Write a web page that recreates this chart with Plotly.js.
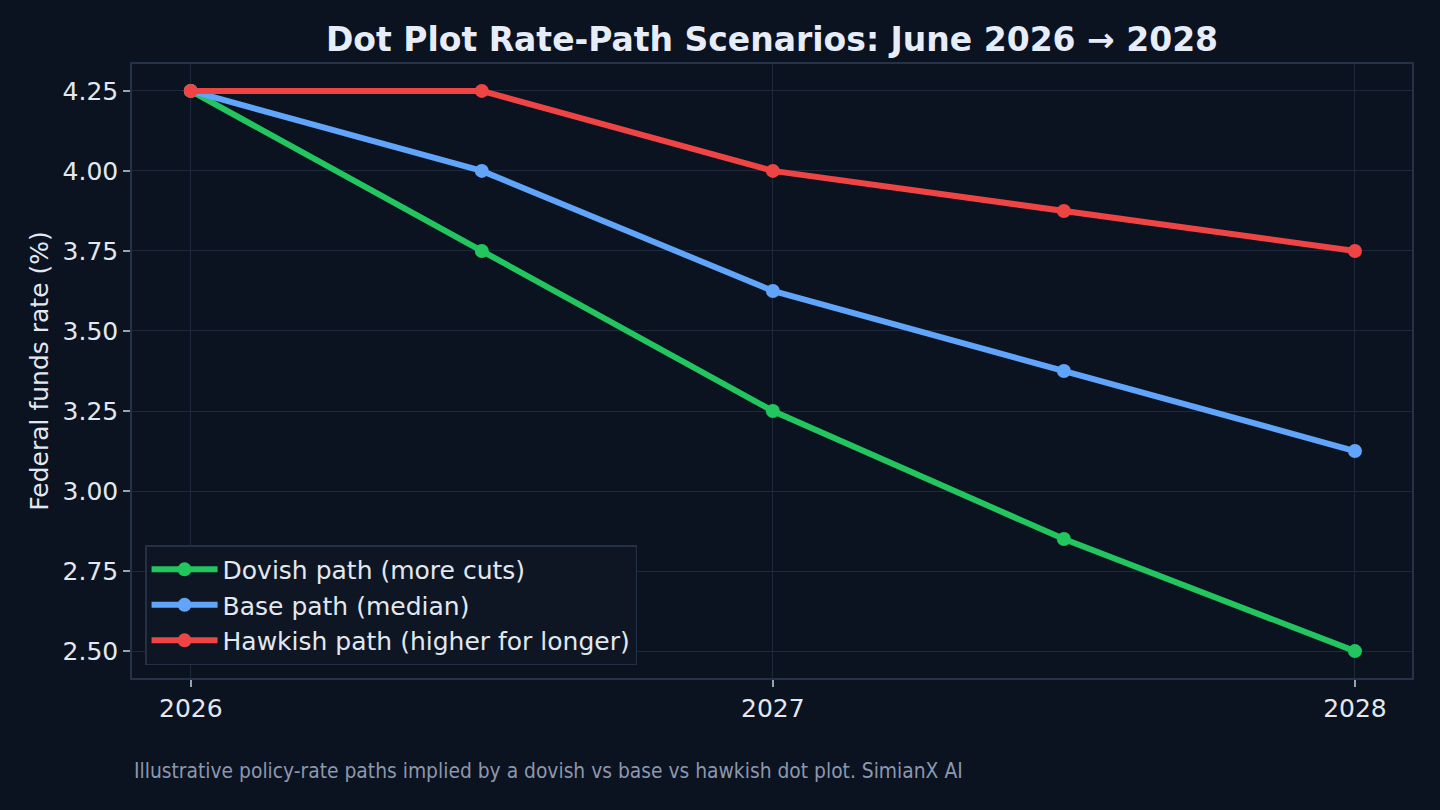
<!DOCTYPE html>
<html>
<head>
<meta charset="utf-8">
<script src="https://cdn.plot.ly/plotly-3.0.1.min.js"></script>
<style>
html,body{margin:0;padding:0;background:#0b1220;}
#chart{width:1440px;height:810px;}
</style>
</head>
<body>
<div id="chart"></div>
<script>
// Data
const xDates = [2026, 2026.5, 2027, 2027.5, 2028];
const dovish = [4.25, 3.75, 3.25, 2.85, 2.50];
const base = [4.25, 4.00, 3.625, 3.375, 3.125];
const hawkish = [4.25, 4.25, 4.00, 3.875, 3.75];
const seriesNames = ["Dovish path (more cuts)", "Base path (median)", "Hawkish path (higher for longer)"];
const xTickVals = [2026, 2027, 2028];
const xTickText = ["2026", "2027", "2028"];
const yTickVals = [2.50, 2.75, 3.00, 3.25, 3.50, 3.75, 4.00, 4.25];

const colors = ["#22c55e", "#60a5fa", "#ef4444"];
const font = "DejaVu Sans, Verdana, sans-serif";

function tr(y, i) {
  return {
    x: xDates, y: y, name: seriesNames[i], type: "scatter", mode: "lines+markers",
    line: {color: colors[i], width: 6},
    marker: {color: colors[i], size: 14}
  };
}

const data = [tr(dovish, 0), tr(base, 1), tr(hawkish, 2)];

const axisCommon = {
  showline: true, mirror: true, linecolor: "#263247", linewidth: 1.5,
  gridcolor: "#1e293b", gridwidth: 1.2, zeroline: false,
  ticks: "outside", ticklen: 7, tickwidth: 1.5, tickcolor: "#94a3b8",
  tickfont: {family: font, size: 25, color: "#e2e8f0"}
};

const layout = {
  width: 1440, height: 810,
  paper_bgcolor: "#0b1220", plot_bgcolor: "#0b1220",
  margin: {l: 132, r: 28, t: 64, b: 132},
  title: {text: "<b>Dot Plot Rate-Path Scenarios: June 2026 \u2192 2028</b>",
    font: {family: font, size: 33, color: "#e6edf9"}, xref: "paper", x: 0.5, xanchor: "center", y: 0.951, yanchor: "middle"},
  xaxis: Object.assign({}, axisCommon, {
    range: [2025.899, 2028.098], tickvals: xTickVals, ticktext: xTickText
  }),
  yaxis: Object.assign({}, axisCommon, {
    range: [2.416, 4.334], tickvals: yTickVals, tickformat: ".2f",
    title: {text: "Federal funds rate (%)", font: {family: font, size: 25, color: "#e2e8f0"}, standoff: 7}
  }),
  legend: {
    x: 0.0102, y: 0.021, xanchor: "left", yanchor: "bottom",
    bgcolor: "#0e1624", bordercolor: "#243044", borderwidth: 1.5,
    font: {family: font, size: 25, color: "#e2e8f0"},
    itemwidth: 66
  },
  showlegend: true,
  annotations: [{
    text: "Illustrative policy-rate paths implied by a dovish vs base vs hawkish dot plot. SimianX AI",
    xref: "paper", yref: "paper", x: 0, y: -0.152, xanchor: "left", yanchor: "middle",
    showarrow: false, font: {family: "DejaVu Sans Condensed, DejaVu Sans, sans-serif", size: 20.8, color: "#8b98ad"}
  }]
};

Plotly.newPlot("chart", data, layout, {displayModeBar: false});
</script>
</body>
</html>
